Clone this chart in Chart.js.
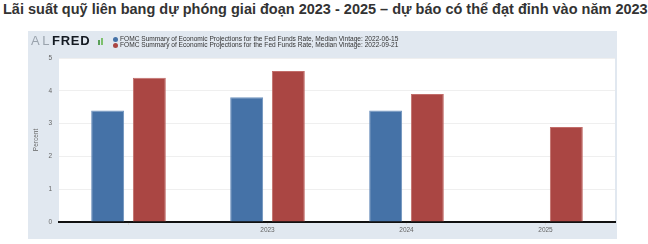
<!DOCTYPE html>
<html>
<head>
<meta charset="utf-8">
<script src="https://cdn.jsdelivr.net/npm/chart.js@4.4.1/dist/chart.umd.min.js"></script>
<style>
  body { margin: 0; width: 648px; height: 244px; background: #fff; position: relative; overflow: hidden; font-family: "Liberation Sans", Arial, sans-serif; }
  #title { position: absolute; left: 3px; top: 1px; font-size: 14.5px; font-weight: bold; color: #333; white-space: nowrap; }
  #panel { position: absolute; left: 28px; top: 31px; width: 589px; height: 208px; background: #e1e8f0; }
  #chart { position: absolute; left: 0; top: 0; }
  #logo { position: absolute; left: 3px; top: 2px; font-size: 13px; line-height: 15px; white-space: nowrap; }
  #logo .al { color: #9aa3ad; letter-spacing: 2.5px; }
  #logo .fred { color: #141a22; font-weight: bold; letter-spacing: 0.8px; }
  .ico { position: absolute; width: 2px; }
  #legend { position: absolute; left: 84px; top: 5px; font-size: 6.6px; line-height: 6px; color: #333; }
  #legend div { position: relative; padding-left: 8px; height: 6px; white-space: nowrap; }
  #legend span { position: absolute; left: 1px; top: 0.5px; width: 5px; height: 5px; border-radius: 50%; }
</style>
</head>
<body>
<div id="title">Lãi suất quỹ liên bang dự phóng giai đoạn 2023 - 2025 – dự báo có thể đạt đỉnh vào năm 2023</div>
<div id="panel">
  <canvas id="chart" width="589" height="208"></canvas>
  <div id="logo"><span class="al">AL</span><span class="fred">FRED</span></div>
  <div class="ico" style="left:70px; top:9px; height:5px; background:#5aa05a;"></div>
  <div class="ico" style="left:73px; top:7px; height:7px; background:#7cc06c;"></div>
  <div id="legend"></div>
</div>
<script>
const categories = ['2022', '2023', '2024', '2025'];
const tickLabels = ['', '2023', '2024', '2025'];
const juneValues = [3.4, 3.8, 3.4, null];
const septValues = [4.4, 4.6, 3.9, 2.9];
const seriesNames = [
    'FOMC Summary of Economic Projections for the Fed Funds Rate, Median Vintage: 2022-06-15',
    'FOMC Summary of Economic Projections for the Fed Funds Rate, Median Vintage: 2022-09-21'
];
const seriesColors = ['#4572a7', '#aa4643'];
const borderColors = ['#6f93be', '#c26d6a'];

const legendBox = document.getElementById('legend');
seriesNames.forEach((name, i) => {
    const row = document.createElement('div');
    row.innerHTML = `<span style="background:${seriesColors[i]}"></span>${name}`;
    legendBox.appendChild(row);
});

const plotBackground = {
    id: 'plotBackground',
    beforeDraw(chart) {
        const { ctx, chartArea } = chart;
        ctx.save();
        ctx.fillStyle = '#ffffff';
        ctx.fillRect(chartArea.left, chartArea.top, chartArea.right - chartArea.left, chartArea.bottom - chartArea.top);
        ctx.restore();
    }
};

const tickFont = { family: '"Liberation Sans", Arial, sans-serif', size: 6.5 };

new Chart(document.getElementById('chart').getContext('2d'), {
    type: 'bar',
    data: {
        labels: categories,
        datasets: [{
            label: seriesNames[0],
            data: juneValues,
            backgroundColor: seriesColors[0],
            borderColor: borderColors[0],
            borderWidth: 1,
            categoryPercentage: 0.6,
            barPercentage: 0.79
        }, {
            label: seriesNames[1],
            data: septValues,
            backgroundColor: seriesColors[1],
            borderColor: borderColors[1],
            borderWidth: 1,
            categoryPercentage: 0.6,
            barPercentage: 0.79
        }]
    },
    options: {
        responsive: false,
        animation: false,
        layout: { padding: { left: 0, right: 2, top: 27, bottom: 0 } },
        plugins: {
            legend: { display: false },
            tooltip: { enabled: false }
        },
        scales: {
            x: {
                grid: { offset: false, drawOnChartArea: false, drawTicks: true, tickLength: 3, color: '#d8d8d8' },
                border: { display: true, color: '#111', width: 2 },
                ticks: {
                    font: tickFont,
                    color: '#666',
                    padding: 1,
                    maxRotation: 0,
                    callback: (value, index) => tickLabels[index]
                },
                afterFit: (scale) => { scale.height = 17; }
            },
            y: {
                min: 0,
                max: 5,
                ticks: { stepSize: 1, font: tickFont, color: '#666', padding: 7 },
                grid: { color: '#efefef', drawTicks: false },
                border: { display: false },
                title: {
                    display: true,
                    text: 'Percent',
                    font: tickFont,
                    color: '#666',
                    padding: { top: 4, bottom: 0 }
                },
                afterFit: (scale) => { scale.width = 31; }
            }
        }
    },
    plugins: [plotBackground]
});
</script>
</body>
</html>
